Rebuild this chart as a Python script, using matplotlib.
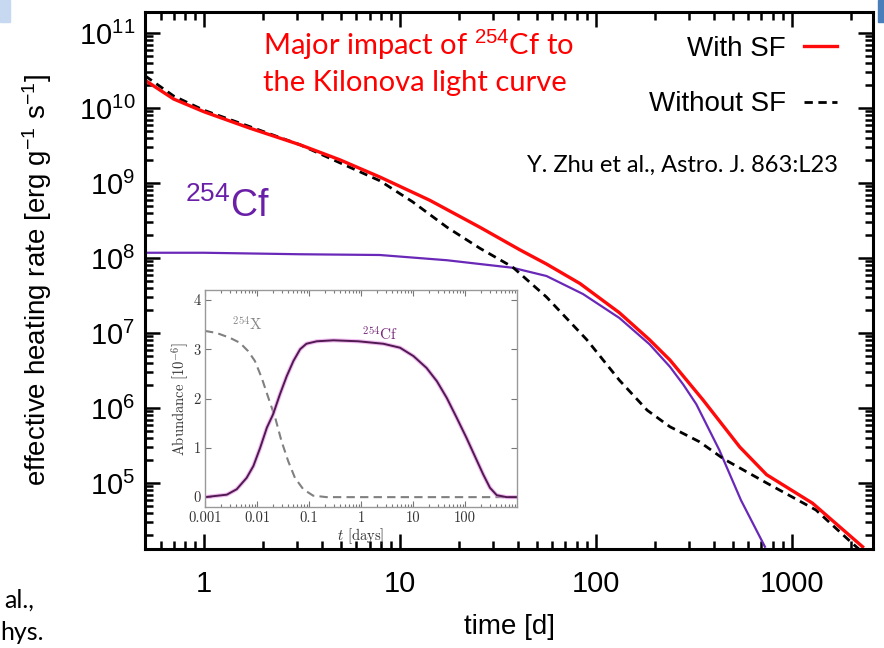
import matplotlib
matplotlib.use("Agg")
import matplotlib.pyplot as plt
import numpy as np
from matplotlib.patches import Rectangle

plt.rcParams['font.family'] = ['Liberation Sans', 'DejaVu Sans']
plt.rcParams['mathtext.fontset'] = 'custom'
plt.rcParams['mathtext.rm'] = 'Liberation Sans'
plt.rcParams['mathtext.it'] = 'Liberation Sans:italic'
plt.rcParams['mathtext.bf'] = 'Liberation Sans:bold'

# main panel: effective heating rate, log10 values
t_sf = [0.5, 0.7, 1, 1.72, 3.09, 4.93, 7.9, 14.2, 25.6, 40.9, 56, 83, 132,
        188, 239, 352, 543, 745, 1278, 2300]
logq_sf = [10.37, 10.12, 9.95, 9.73, 9.51, 9.31, 9.08, 8.77, 8.41, 8.11, 7.92,
           7.66, 7.27, 6.91, 6.64, 6.11, 5.48, 5.11, 4.73, 4.15]

t_nosf = [0.5, 0.7, 1, 1.72, 3.09, 4.93, 7.9, 11.6, 17.4, 25.6, 37.6, 56, 90,
          132, 183, 239, 338, 450, 745, 1330, 2030, 2200]
logq_nosf = [10.43, 10.16, 9.97, 9.75, 9.51, 9.27, 9.03, 8.75, 8.41, 8.13,
             7.88, 7.48, 6.91, 6.37, 5.97, 5.75, 5.55, 5.32, 5.00, 4.64, 4.20,
             4.12]

t_cf = [0.5, 1, 3.09, 7.9, 17.4, 37.6, 56, 86, 132, 188, 239, 280, 326, 427,
        551, 730]
logq_cf = [8.07, 8.07, 8.05, 8.04, 7.97, 7.87, 7.76, 7.52, 7.20, 6.85, 6.55,
           6.31, 6.05, 5.44, 4.77, 4.15]

# inset: abundances in units of 1e-6
t_in_cf = [0.001, 0.00263, 0.00407, 0.00631, 0.00851, 0.0115, 0.0155, 0.0204,
           0.0275, 0.0372, 0.0501, 0.0676, 0.0891, 0.141, 0.295, 0.891, 2.69,
           5.62, 10.2, 18.2, 28.8, 44.7, 69.2, 107, 166, 224, 302, 407, 631,
           1000]
ab_cf = [0.0, 0.05, 0.16, 0.39, 0.63, 1.0, 1.41, 1.68, 2.08, 2.45, 2.76, 3.0,
         3.11, 3.16, 3.18, 3.16, 3.11, 3.03, 2.86, 2.62, 2.35, 2.01, 1.61, 1.20,
         0.76, 0.46, 0.19, 0.04, 0.0, 0.0]
t_in_x = [0.001, 0.00166, 0.00302, 0.00468, 0.00676, 0.00912, 0.0123, 0.0166,
          0.0224, 0.0295, 0.0398, 0.0537, 0.0776, 0.120, 0.219, 1000]
ab_x = [3.37, 3.33, 3.23, 3.13, 2.96, 2.76, 2.42, 2.01, 1.61, 1.14, 0.73, 0.39,
        0.16, 0.03, 0.0, 0.0]

W, H = 884, 648
fig = plt.figure(figsize=(W / 100, H / 100), dpi=100)

def fx(px):
    return px / W

def fy(py):
    return 1 - py / H

ax = fig.add_axes([fx(145), fy(549), fx(873) - fx(145), fy(12) - fy(549)])
ax.plot(t_cf, 10 ** np.array(logq_cf), color='#6a28b8', lw=1.6)
nosf, = ax.plot(t_nosf, 10 ** np.array(logq_nosf), color='black', lw=2,
                dashes=(3, 2))
sf, = ax.plot(t_sf, 10 ** np.array(logq_sf), color='#ff0a0a', lw=2.4)
ax.set_xscale('log')
ax.set_yscale('log')
ax.set_xlim(0.5, 2600)
ax.set_ylim(10 ** 4.12, 10 ** 11.28)
ax.set_yticks([1e5, 1e6, 1e7, 1e8, 1e9, 1e10, 1e11])
ax.set_xticks([1, 10, 100, 1000])
ax.set_xticklabels(['1', '10', '100', '1000'])
for s in ax.spines.values():
    s.set_linewidth(2.2)
ax.tick_params(which='both', direction='in', top=True, right=True, width=1.8)
ax.tick_params(which='major', length=11, labelsize=21)
ax.tick_params(which='minor', length=6)
ax.tick_params(axis='x', pad=15)
ax.tick_params(axis='y', pad=7)
ax.set_xlabel('time [d]', fontsize=20, labelpad=12)
ax.set_ylabel('effective heating rate [erg g$^{-1}$ s$^{-1}$]', fontsize=20,
              labelpad=18)

ax.legend([sf, nosf], ['With SF', 'Without SF'],
          loc='upper right', bbox_to_anchor=(0.951, 0.955), frameon=False,
          markerfirst=False, fontsize=20, handlelength=1.2,
          handletextpad=0.65, labelspacing=1.05, borderpad=0, borderaxespad=0)

fig.text(fx(185), fy(206), '$^{254}$Cf', color='#6a1fa8', fontsize=27,
         va='center', ha='left')
fig.text(fx(263), fy(45), 'Major impact of $^{254}$Cf to', color='#ff0000',
         fontsize=21, family='Lato', va='center', ha='left')
fig.text(fx(263), fy(83), 'the Kilonova light curve', color='#ff0000',
         fontsize=21, family='Lato', va='center', ha='left')
fig.text(fx(527), fy(165), 'Y. Zhu et al., Astro. J. 863:L23', color='black',
         fontsize=17, family='Lato', va='center', ha='left')
fig.text(fx(4), fy(600), 'al.,', fontsize=18, family='Lato', va='center')
fig.text(fx(0), fy(632), 'hys.', fontsize=18, family='Lato', va='center')

fig.patches.append(Rectangle((0, fy(22)), fx(10), 1 - fy(22),
                             transform=fig.transFigure, color='#c6d9f1'))
fig.patches.append(Rectangle((fx(878), fy(22)), fx(6), 1 - fy(22),
                             transform=fig.transFigure, color='#4a7ebb'))

# inset
axi = fig.add_axes([fx(205), fy(507), fx(517) - fx(205), fy(290) - fy(507)])
axi.plot(t_in_x, ab_x, color='#808080', lw=1.5, dashes=(4, 2.5))
axi.plot(t_in_cf, ab_cf, color='#e890e8', lw=3.0, alpha=0.6)
axi.plot(t_in_cf, ab_cf, color='#501a50', lw=1.4)
axi.set_xscale('log')
axi.set_xlim(0.001, 1000)
axi.set_ylim(-0.2, 4.2)
axi.set_xticks([0.001, 0.01, 0.1, 1, 10, 100])
axi.set_xticklabels(['0.001', '0.01', '0.1', '1', '10', '100'])
axi.set_yticks([0, 1, 2, 3, 4])
axi.set_yticklabels(['0', '1', '2', '3', '4'])
for s in axi.spines.values():
    s.set_color('#999999')
    s.set_linewidth(1)
axi.tick_params(which='both', direction='in', top=True, right=True,
                color='#777777', width=0.8)
axi.tick_params(which='major', length=4, pad=3)
axi.tick_params(which='minor', length=2)
for lab in axi.get_xticklabels() + axi.get_yticklabels():
    lab.set_fontfamily('cmr10')
    lab.set_fontsize(10.5)
    lab.set_color('#333333')
axi.set_xlabel('$t$ [days]', fontsize=10.5, family='cmr10',
               math_fontfamily='cm', labelpad=1, color='#333333')
axi.set_ylabel('Abundance [$10^{-6}$]', fontsize=10.5, family='cmr10',
               math_fontfamily='cm', labelpad=2, color='#333333')
axi.text(0.0065, 3.5, '$^{254}$X', fontsize=11, family='cmr10',
         math_fontfamily='cm', color='#888888', va='center', ha='center')
axi.text(2.3, 3.3, '$^{254}$Cf', fontsize=11, family='cmr10',
         math_fontfamily='cm', color='#7a2a7a', va='center', ha='center')

fig.savefig('out.png', dpi=100)
